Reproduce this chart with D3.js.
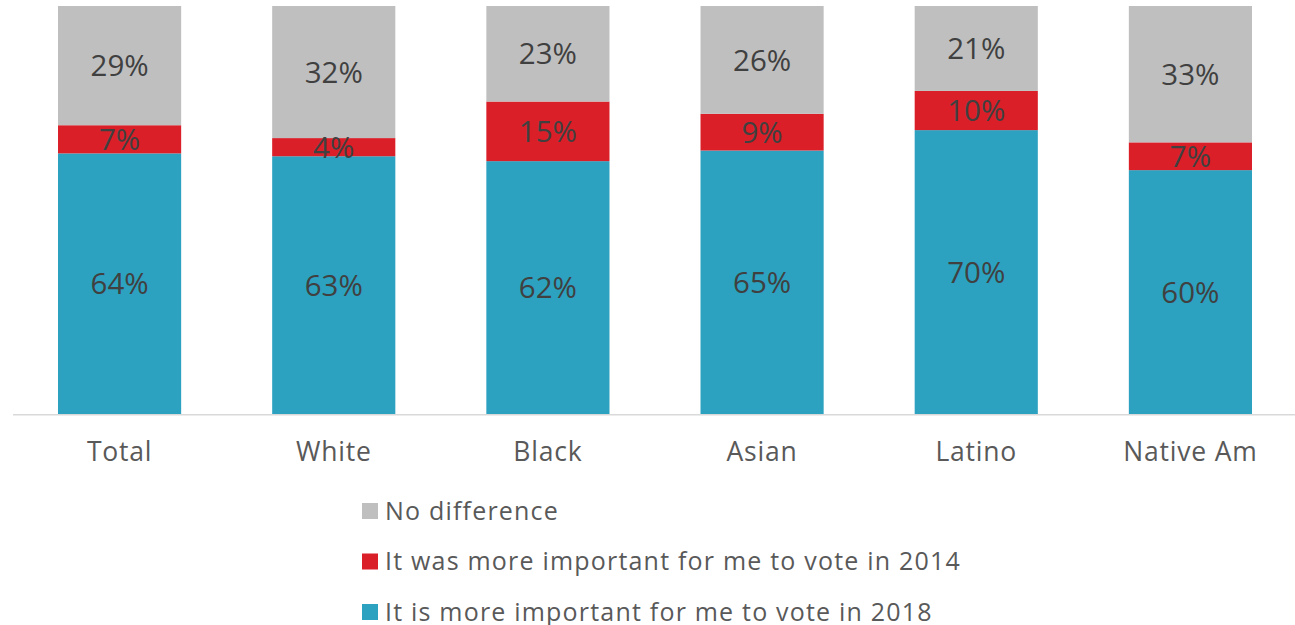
<!DOCTYPE html>
<html>
<head>
<meta charset="utf-8">
<script src="https://cdn.jsdelivr.net/npm/d3@7"></script>
<style>
  html, body { margin: 0; padding: 0; background: #fff; }
  svg { display: block; }
  text { font-family: "Open Sans", "DejaVu Sans", sans-serif; }
</style>
</head>
<body>
<svg id="chart" width="1295" height="625"></svg>
<script>
// ---- data ----
const categories = ["Total", "White", "Black", "Asian", "Latino", "Native Am"];
const seriesNames = [
  "It is more important for me to vote in 2018",
  "It was more important for me to vote in 2014",
  "No difference"
];
const vote2018     = [63.9, 63.2, 62.0, 64.6, 69.6, 59.8];
const vote2014     = [6.9, 4.45, 14.6, 9.0, 9.6, 6.8];
const noDifference = [29.2, 32.35, 23.4, 26.4, 20.8, 33.4];
const legendOrder = ["No difference",
  "It was more important for me to vote in 2014",
  "It is more important for me to vote in 2018"];

const colors = {
  "It is more important for me to vote in 2018": "#2CA2C0",
  "It was more important for me to vote in 2014": "#DA1F29",
  "No difference": "#BFBFBF"
};

// ---- build table ----
const table = categories.map((c, i) => ({
  category: c,
  [seriesNames[0]]: vote2018[i],
  [seriesNames[1]]: vote2014[i],
  [seriesNames[2]]: noDifference[i]
}));
const stacked = d3.stack().keys(seriesNames)(table);

const svg = d3.select("#chart");

const x = d3.scaleBand()
  .domain(categories)
  .range([12.5, 1297.5])
  .paddingInner(0.425)
  .paddingOuter(0.2125);

const y = d3.scaleLinear().domain([0, 100]).range([414.3, 6]);

const fmt = v => d3.format(".0f")(v) + "%";

// bars
const layers = svg.append("g").selectAll("g")
  .data(stacked).join("g")
  .attr("fill", d => colors[d.key]);

layers.selectAll("rect")
  .data(d => d).join("rect")
  .attr("x", d => x(d.data.category))
  .attr("width", x.bandwidth())
  .attr("y", d => y(d[1]))
  .attr("height", d => y(d[0]) - y(d[1]));

// value labels
const labels = svg.append("g");
stacked.forEach(layer => {
  labels.selectAll(null)
    .data(layer).join("text")
    .attr("x", d => x(d.data.category) + x.bandwidth() / 2)
    .attr("y", d => (y(d[0]) + y(d[1])) / 2)
    .attr("dy", "0.36em")
    .attr("text-anchor", "middle")
    .attr("font-size", 29.5)
    .attr("fill", "#404040")
    .text(d => fmt(d[1] - d[0]));
});

// x axis
const axis = svg.append("g")
  .attr("transform", `translate(0,${y(0)})`)
  .call(d3.axisBottom(x).tickSize(0).tickSizeOuter(0));
axis.select(".domain").attr("stroke", "#D9D9D9").attr("stroke-width", 1.5);
axis.selectAll(".tick text")
  .attr("y", 46.7)
  .attr("dy", 0)
  .attr("font-size", 26.5)
  .attr("letter-spacing", 0.8)
  .attr("font-family", "'Open Sans', sans-serif")
  .attr("fill", "#595959");

// legend
const legend = svg.append("g").attr("transform", "translate(362,502)");
const items = legend.selectAll("g")
  .data(legendOrder).join("g")
  .attr("transform", (d, i) => `translate(0,${i * 50.5})`);
items.append("rect")
  .attr("y", 1)
  .attr("width", 16).attr("height", 16)
  .attr("fill", d => colors[d]);
items.append("text")
  .attr("x", 23)
  .attr("y", 17.5)
  .attr("font-size", 25)
  .attr("letter-spacing", 1.2)
  .attr("fill", "#595959")
  .text(d => d);
</script>
</body>
</html>
